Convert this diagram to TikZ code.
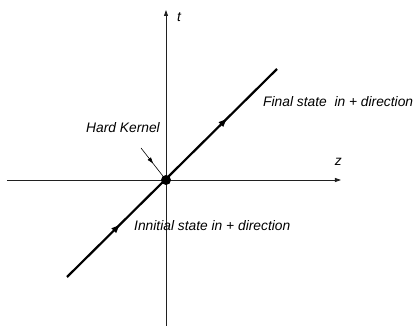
\documentclass[tikz,border=0pt]{standalone}
\usepackage{fontspec}
\setmainfont{Liberation Sans}
\usetikzlibrary{arrows.meta, decorations.markings, positioning}
\definecolor{ink}{HTML}{000000}
\definecolor{axisc}{HTML}{202020}
\tikzset{el/.style={line cap=butt, line join=round}}

\begin{document}
\begin{tikzpicture}[el, x=1pt, y=1pt,
     lbl/.style={font=\fontsize{13.8}{16}\selectfont\itshape, ink, inner sep=0pt},
     axis/.style={-{Triangle[length=6pt, width=4pt]}, axisc, line width=0.8pt},
     world/.style={ink, line width=2.2pt,
        postaction={decorate, decoration={markings,
          mark=at position 0.25 with {\arrow{Triangle[length=8pt, width=6pt]}},
          mark=at position 0.76 with {\arrow{Triangle[length=8pt, width=6pt]}}}}},
     ptr/.style={ink, line width=0.6pt,
        postaction={decorate, decoration={markings,
          mark=at position 0.55 with {\arrow{Triangle[length=6pt, width=4pt]}}}}}]
     \useasboundingbox (-166,-146) rectangle (250,180);
     % axes
     \coordinate (zl) at (-159,0);
     \coordinate (zr) at (175,0);
     \coordinate (tb) at (0,-146);
     \coordinate (tt) at (0,170);
     \draw[axis] (zl)--(zr);
     \draw[axis] (tb)--(tt);
     \node[lbl, above left=14pt and -1pt of zr] (zlab) {z};
     \node[lbl, below right=2pt and 11pt of tt] (tlab) {t};
     % particle line through the kernel
     \coordinate (pin) at (-99,-97);
     \coordinate (pout) at (111,111);
     \draw[world] (pin)--(pout);
     \node[circle, fill=ink, inner sep=0pt, minimum size=10pt] (kern) at (0,0) {};
     \node[lbl] (hk) at (-43,52) {Hard Kernel};
     \coordinate (hkp) at (-25,32);
     \draw[ptr] (hkp)--(kern);
     \node[lbl, anchor=west] (fin) at (97,78) {Final state\ \ in + direction};
     \node[lbl, anchor=west] (ini) at (-32,-46) {Innitial state in + direction};
\end{tikzpicture}
\end{document}
